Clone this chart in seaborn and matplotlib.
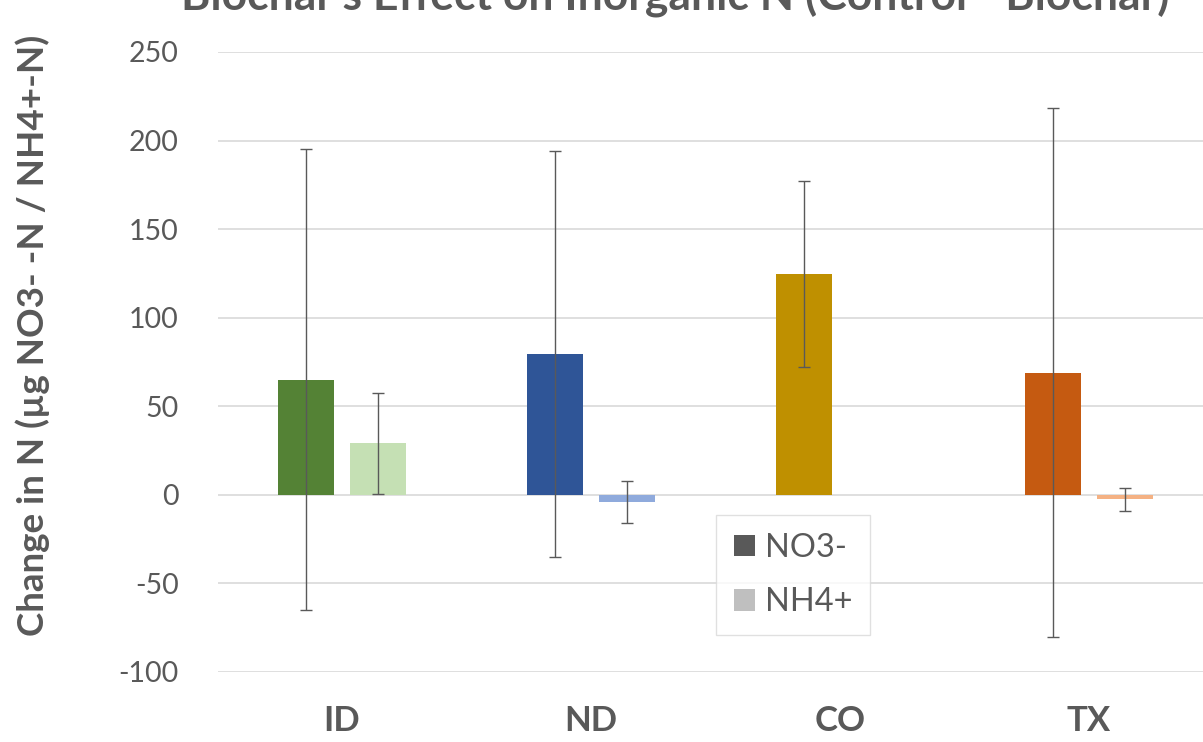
import numpy as np
import pandas as pd
import matplotlib
matplotlib.use("Agg")
import matplotlib.pyplot as plt
from matplotlib.patches import Patch
from matplotlib.container import BarContainer
import seaborn as sns

# Change in inorganic N (control minus biochar), per site
sites = ["ID", "ND", "CO", "TX"]
no3 = [65.0, 79.5, 124.5, 69.0]
no3_err = [130.0, 114.5, 52.5, 149.5]
nh4 = [29.0, -4.0, np.nan, -2.5]
nh4_err = [28.5, 12.0, np.nan, 6.5]
forms = ["NO3-", "NH4+"]

# per-site colours: dark shade for nitrate, light shade for ammonium
no3_colors = ["#548235", "#2F5597", "#BF9000", "#C55A11"]
nh4_colors = ["#C5E0B4", "#8FAADC", "#FFE699", "#F4B183"]

df = pd.DataFrame({
    "site": sites * 2,
    "form": [forms[0]] * len(sites) + [forms[1]] * len(sites),
    "value": no3 + nh4,
    "err": no3_err + nh4_err,
})

sns.set_theme(style="white")
plt.rcParams["font.family"] = ["Lato", "DejaVu Sans"]
plt.rcParams["axes.unicode_minus"] = False
text_color = "#595959"

fig = plt.figure(figsize=(12.03, 7.42), dpi=100)
ax = fig.add_axes([217.5 / 1203, 70 / 742, 996 / 1203, 620 / 742])

sns.barplot(data=df, x="site", y="value", hue="form", order=sites,
            hue_order=forms, width=0.578, gap=0.235, errorbar=None,
            legend=False, ax=ax, linewidth=0)

color_sets = {forms[0]: no3_colors, forms[1]: nh4_colors}
err_sets = {forms[0]: no3_err, forms[1]: nh4_err}
val_sets = {forms[0]: no3, forms[1]: nh4}
bar_containers = [c for c in ax.containers if isinstance(c, BarContainer)]
for hi, container in enumerate(bar_containers):
    form = container.get_label()
    if form not in color_sets:
        form = forms[hi]
    for bar in container:
        h = bar.get_height()
        if not np.isfinite(h):
            continue
        cx = bar.get_x() + bar.get_width() / 2
        idx = int(round(cx))
        bar.set_facecolor(color_sets[form][idx])
        bar.set_edgecolor("none")
        e = err_sets[form][idx]
        if np.isfinite(e):
            ax.errorbar(cx, val_sets[form][idx], yerr=e, fmt="none",
                        ecolor=text_color, elinewidth=1.0, capsize=4,
                        capthick=1.0, zorder=5)

ax.set_xlim(-0.5, 3.5)
ax.set_ylim(-100, 250)
ax.set_yticks(np.arange(-100, 251, 50))
ax.yaxis.grid(True, color="#D9D9D9", linewidth=1.2)
ax.set_axisbelow(True)
for s in ax.spines.values():
    s.set_visible(False)
ax.set_xlabel("")
ax.set_ylabel("")
ax.tick_params(axis="both", length=0)
ax.tick_params(axis="y", pad=28, labelsize=20.5, labelcolor=text_color)
ax.tick_params(axis="x", pad=24, labelsize=25, labelcolor=text_color)
for lab in ax.get_xticklabels():
    lab.set_fontweight("bold")

fig.text(675 / 1203, 1 - 11 / 742,
         "Biochar's Effect on Inorganic N (Control - Biochar)",
         ha="center", va="baseline", fontsize=32, fontweight="bold",
         color=text_color)
fig.text(33 / 1203, 1 - 335 / 742, "Change in N (µg NO3- -N / NH4+-N)",
         ha="center", va="center", rotation=90, fontsize=26.5,
         fontweight="bold", color=text_color)

handles = [Patch(facecolor="#595959", edgecolor="none"),
           Patch(facecolor="#BFBFBF", edgecolor="none")]
leg = fig.legend(handles, forms, loc="upper left",
                 bbox_to_anchor=(716 / 1203, 1 - 515 / 742),
                 borderaxespad=0.0,
                 fontsize=23.5, frameon=True, fancybox=False,
                 edgecolor="#D9D9D9", handlelength=0.65, handleheight=0.65,
                 handletextpad=0.3, labelspacing=0.75, borderpad=0.55,
                 labelcolor=text_color)
leg.get_frame().set_linewidth(1.0)

fig.savefig("out.png", dpi=100)
